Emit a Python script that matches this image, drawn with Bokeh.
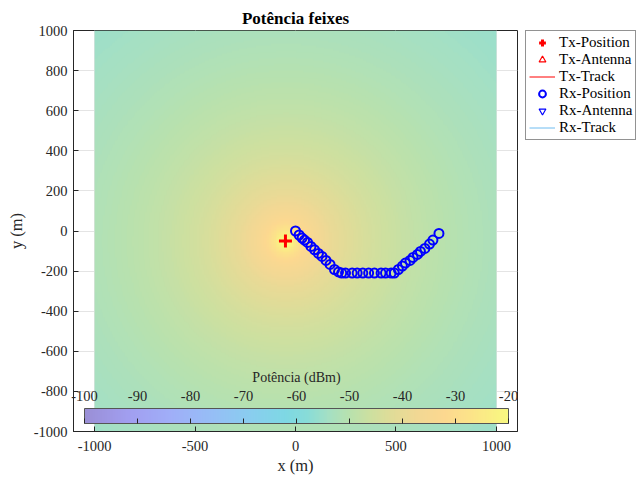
import numpy as np
from bokeh.plotting import figure
from bokeh.layouts import row
from bokeh.models import (ColumnDataSource, LinearColorMapper, ColorBar, Legend, LegendItem,
                          FixedTicker, Range1d, PrintfTickFormatter, Label)
from bokeh.embed import file_html
from bokeh.resources import INLINE

# ---------------- data ----------------
tx_x = [-50]
tx_y = [-50]
rx_x = [0, 18, 33, 45, 60, 77, 95, 114, 132, 152, 172, 194, 214, 230,
        249, 282, 307, 335, 364, 393, 426, 448, 476, 492,
        512, 532, 547, 570, 585, 607, 622, 644, 667, 684, 714]
rx_y = [0, -20, -35, -45, -57, -77, -94, -112, -127, -147, -167, -192, -204, -210,
        -210, -210, -210, -210, -210, -210, -210, -210, -210, -210,
        -192, -175, -160, -147, -132, -117, -102, -87, -65, -45, -12]
hidden_x = [np.nan]   # legend-only entries (no visible mark)
hidden_y = [np.nan]

map_x0, map_y0, map_w, map_h = -1000, -1000, 2000, 2000
map_n = 240
p0_dbm = 8.0          # reference power at 1 m
min_dist = 8.0
cbar_low, cbar_high = -100, -20
cbar_ticks = [-100, -90, -80, -70, -60, -50, -40, -30, -20]
x_ticks = [-1000, -500, 0, 500, 1000]
y_ticks = [-1000, -800, -600, -400, -200, 0, 200, 400, 600, 800, 1000]
legend_labels = ["Tx-Position", "Tx-Antenna", "Tx-Track", "Rx-Position", "Rx-Antenna", "Rx-Track"]

# colormap anchors (value, colour)
cmap_vals = [-100, -92, -84, -76, -68, -62, -58, -54, -50, -46, -42, -37, -32, -27, -20]
cmap_cols = ["#9a8fd6", "#a19ef0", "#a0aef8", "#96bef6", "#88cfee", "#7ed8e4", "#88dcd8",
             "#a4e0c4", "#b8e1ae", "#cde0a0", "#e0dc98", "#f2d894", "#fcd890", "#fce489",
             "#f8f880"]

# ---------------- palette ----------------
def hex2rgb(h):
    h = h.lstrip("#")
    return [int(h[i:i + 2], 16) for i in (0, 2, 4)]

anchor_rgb = np.array([hex2rgb(c) for c in cmap_cols], dtype=float)
grid_v = np.linspace(cbar_low, cbar_high, 256)
palette = []
for v in grid_v:
    rgb = [np.interp(v, cmap_vals, anchor_rgb[:, k]) for k in range(3)]
    palette.append("#%02x%02x%02x" % tuple(int(round(c)) for c in rgb))

# ---------------- power map ----------------
gx = np.linspace(map_x0, map_x0 + map_w, map_n)
gy = np.linspace(map_y0, map_y0 + map_h, map_n)
GX, GY = np.meshgrid(gx, gy)
dist = np.maximum(np.hypot(GX - tx_x[0], GY - tx_y[0]), min_dist)
power = p0_dbm - 20 * np.log10(dist)

SERIF = "Liberation Serif"
AX_COL = "#262626"
FIG_H = 477
TOP = 30

p = figure(width=518, height=FIG_H, output_backend="svg", toolbar_location=None,
           x_range=Range1d(-1105, 1105), y_range=Range1d(-1000, 1000),
           min_border_left=73, min_border_right=1, min_border_top=TOP, min_border_bottom=30,
           styles={"flex-shrink": "0"})

mapper = LinearColorMapper(palette=palette, low=cbar_low, high=cbar_high)
p.image(image=[power], x=map_x0, y=map_y0, dw=map_w, dh=map_h, color_mapper=mapper)

src_tx = ColumnDataSource(dict(x=tx_x, y=tx_y))
src_rx = ColumnDataSource(dict(x=rx_x, y=rx_y))

TX_STYLE = dict(marker="cross", size=13, line_width=3, color="#ff0000")
RX_STYLE = dict(marker="circle", size=9, line_width=2, line_color="#0000ff", fill_color=None)
p.scatter("x", "y", source=src_tx, **TX_STYLE)
p.scatter("x", "y", source=src_rx, **RX_STYLE)

# title
p.title.text = "Potência feixes"
p.title.align = "center"
p.title.text_font = SERIF
p.title.text_font_size = "17px"
p.title.text_font_style = "bold"
p.title.text_color = "#000000"
p.title.standoff = 6

# axes
for ax in (p.xaxis[0], p.yaxis[0]):
    ax.major_label_text_font = SERIF
    ax.major_label_text_font_size = "14.5px"
    ax.major_label_text_color = AX_COL
    ax.axis_label_text_font = SERIF
    ax.axis_label_text_font_size = "16.5px"
    ax.axis_label_text_font_style = "normal"
    ax.axis_label_text_color = AX_COL
    ax.axis_line_color = AX_COL
    ax.major_tick_line_color = AX_COL
    ax.major_tick_in = 5
    ax.major_tick_out = 0
    ax.minor_tick_line_color = None
    ax.formatter = PrintfTickFormatter(format="%d")
p.xaxis.major_label_standoff = 9
p.xaxis.axis_label_standoff = 2
p.yaxis.major_label_standoff = 6
p.yaxis.axis_label_standoff = 5
p.xaxis.axis_label = "x (m)"
p.yaxis.axis_label = "y (m)"
p.xaxis.ticker = FixedTicker(ticks=x_ticks)
p.yaxis.ticker = FixedTicker(ticks=y_ticks)

p.grid.grid_line_color = "#e4e4e4"
p.outline_line_color = AX_COL
p.background_fill_color = "#ffffff"

# colour bar
cb = ColorBar(color_mapper=mapper, orientation="horizontal", width=424, height=15,
              location=(11, 8), padding=0, ticker=FixedTicker(ticks=cbar_ticks),
              formatter=PrintfTickFormatter(format="%d"),
              major_label_text_font=SERIF, major_label_text_font_size="14.5px",
              major_label_text_color=AX_COL, label_standoff=-33,
              major_tick_in=5, major_tick_out=0, major_tick_line_color=AX_COL,
              minor_tick_line_color=None, bar_line_color="#555555",
              background_fill_alpha=0, border_line_color=None)
p.add_layout(cb, "center")

cb_title = Label(x=223, y=54, x_units="screen", y_units="screen", text="Potência (dBm)",
                 text_font=SERIF, text_font_size="14px", text_color=AX_COL,
                 text_align="center", text_baseline="middle")
p.add_layout(cb_title)

# ---------------- legend panel (separate small figure) ----------------
q = figure(width=120, height=FIG_H, output_backend="svg", toolbar_location=None,
           x_axis_location=None, y_axis_location=None,
           x_range=Range1d(0, 1), y_range=Range1d(0, 1),
           min_border_left=7, min_border_top=TOP, min_border_right=0, min_border_bottom=0,
           outline_line_color=None, styles={"flex-shrink": "0"})
q.grid.visible = False
src_hidden = ColumnDataSource(dict(x=hidden_x, y=hidden_y))
l_tx = q.scatter("x", "y", source=src_hidden, **TX_STYLE)
l_txa = q.scatter("x", "y", source=src_hidden, marker="triangle", size=11, line_width=1.2,
                  line_color="#ff0000", fill_color=None)
l_txt = q.line("x", "y", source=src_hidden, line_color="#ff0000", line_width=1)
l_rx = q.scatter("x", "y", source=src_hidden, **RX_STYLE)
l_rxa = q.scatter("x", "y", source=src_hidden, marker="inverted_triangle", size=11,
                  line_width=1.2, line_color="#0000ff", fill_color=None)
l_rxt = q.line("x", "y", source=src_hidden, line_color="#6ebcf0", line_width=1)
rends = [l_tx, l_txa, l_txt, l_rx, l_rxa, l_rxt]

legend = Legend(items=[LegendItem(label=lab, renderers=[r]) for lab, r in zip(legend_labels, rends)],
                location="top_left")
legend.label_text_font = SERIF
legend.label_text_font_size = "15px"
legend.label_text_color = "#000000"
legend.glyph_width = 26
legend.glyph_height = 17
legend.label_height = 17
legend.label_standoff = 4
legend.spacing = 0
legend.padding = 3
legend.margin = 0
legend.border_line_color = AX_COL
legend.border_line_width = 1
legend.background_fill_alpha = 1
q.add_layout(legend, "center")

layout = row(p, q)
open("out.html", "w").write(file_html(layout, INLINE))
